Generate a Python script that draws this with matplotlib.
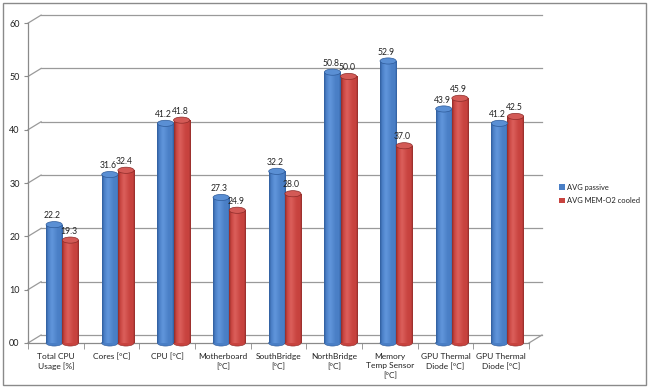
import matplotlib.pyplot as plt
import numpy as np
from matplotlib.patches import Ellipse, Patch, Rectangle
from matplotlib.colors import LinearSegmentedColormap

categories = ['Total CPU\nUsage [%]', 'Cores [°C]', 'CPU [°C]', 'Motherboard\n[°C]',
              'SouthBridge\n[°C]', 'NorthBridge\n[°C]', 'Memory\nTemp Sensor\n[°C]',
              'GPU Thermal\nDiode [°C]', 'GPU Thermal\nDiode [°C]']
passive = [22.2, 31.6, 41.2, 27.3, 32.2, 50.8, 52.9, 43.9, 41.2]
cooled = [19.3, 32.4, 41.8, 24.9, 28.0, 50.0, 37.0, 45.9, 42.5]
yticks = [0, 10, 20, 30, 40, 50, 60]
ytick_labels = ['00', '10', '20', '30', '40', '50', '60']
series_names = ['AVG passive', 'AVG MEM-O2 cooled']

plt.rcParams['font.family'] = ['Lato', 'DejaVu Sans']

W, H = 650, 390
fig = plt.figure(figsize=(W / 100, H / 100), dpi=100)
fig.patch.set_facecolor('white')
fig.patches.append(Rectangle((3 / W, 5 / H), 643 / W, 382 / H, transform=fig.transFigure,
                             fill=False, edgecolor='#8a8a8a', lw=1))

dx = 0.235   # depth offset (category units)
dy = 1.5     # depth offset (value units)
ax = fig.add_axes([28 / W, (H - 343) / H, 514 / W, 330 / H])
ax.set_facecolor('none')

grid_col = '#9a9a9a'
# back wall gridlines and side wall diagonals
for v in yticks:
    ax.plot([-0.5 + dx, 8.5 + dx], [v + dy, v + dy], color=grid_col, lw=0.9, zorder=1, clip_on=False)
    ax.plot([-0.5, -0.5 + dx], [v, v + dy], color=grid_col, lw=0.9, zorder=1, clip_on=False)
ax.plot([8.5, 8.5 + dx], [0, dy], color=grid_col, lw=0.9, zorder=1, clip_on=False)

for s in ['top', 'right']:
    ax.spines[s].set_visible(False)
ax.spines['left'].set_bounds(0, 60)
ax.spines['bottom'].set_bounds(-0.5, 8.5)
for s in ['left', 'bottom']:
    ax.spines[s].set_color('#8a8a8a')
    ax.spines[s].set_linewidth(0.9)

ax.set_yticks(yticks)
ax.set_yticklabels(ytick_labels)
ax.tick_params(axis='y', length=3, color='#8a8a8a', labelsize=6.5, pad=3, labelcolor='#222222')
x = np.arange(len(categories))
ax.set_xticks(x)
ax.set_xticklabels(categories, fontsize=6.0, linespacing=1.45, color='#222222')
ax.tick_params(axis='x', length=0, pad=7)
ax.set_xticks(np.arange(-0.5, 9, 1), minor=True)
ax.tick_params(axis='x', which='minor', length=4, color='#8a8a8a')

bw = 0.29
styles = [
    dict(off=-0.03, edge='#2d5a99', mid='#4a7fc6', hi='#6196dc', top='#5a8fd4', leg='#4a7fc6'),
    dict(off=0.26, edge='#8c2b28', mid='#c8433f', hi='#dc605c', top='#d35a56', leg='#c8433f'),
]
eh = 1.15  # ellipse height in value units

for vals, st in zip([passive, cooled], styles):
    xs = x + st['off']
    bars = ax.bar(xs, vals, width=bw, color=st['mid'], zorder=3)
    # cylinder shading
    cmap = LinearSegmentedColormap.from_list('c', [(0, st['edge']), (0.12, st['mid']),
                                                   (0.35, st['hi']), (0.7, st['mid']),
                                                   (0.9, st['mid']), (1, st['edge'])])
    grad = np.linspace(0, 1, 64).reshape(1, -1)
    for b, xc, v in zip(bars, xs, vals):
        im = ax.imshow(grad, cmap=cmap, aspect='auto', zorder=3.5,
                       extent=[xc - bw / 2, xc + bw / 2, 0, v], interpolation='bicubic')
        im.set_clip_path(b)
        ax.add_patch(Ellipse((xc, 0), bw, eh, facecolor=st['mid'], edgecolor=st['edge'],
                             lw=0.4, zorder=2.9, clip_on=False))
        ax.add_patch(Ellipse((xc, v), bw, eh, facecolor=st['top'], edgecolor=st['edge'],
                             lw=0.5, zorder=4))
        ax.text(xc - 0.03, v + 0.8, f'{v:.1f}', ha='center', va='bottom', fontsize=6.2,
                color='#222222', zorder=5)

ax.set_xlim(-0.5, 8.5 + dx)
ax.set_ylim(0, 61.9)

handles = [Patch(facecolor=styles[0]['leg'], edgecolor='none'),
           Patch(facecolor=styles[1]['leg'], edgecolor='none')]
leg = fig.legend(handles, series_names, loc='center left', bbox_to_anchor=(559 / W, 1 - 194 / H),
                 frameon=False, fontsize=5.4, handlelength=0.75, handleheight=0.75,
                 handletextpad=0.3, labelspacing=0.85, borderaxespad=0, borderpad=0)
for t in leg.get_texts():
    t.set_color('#222222')

fig.savefig('out.png', dpi=100)
